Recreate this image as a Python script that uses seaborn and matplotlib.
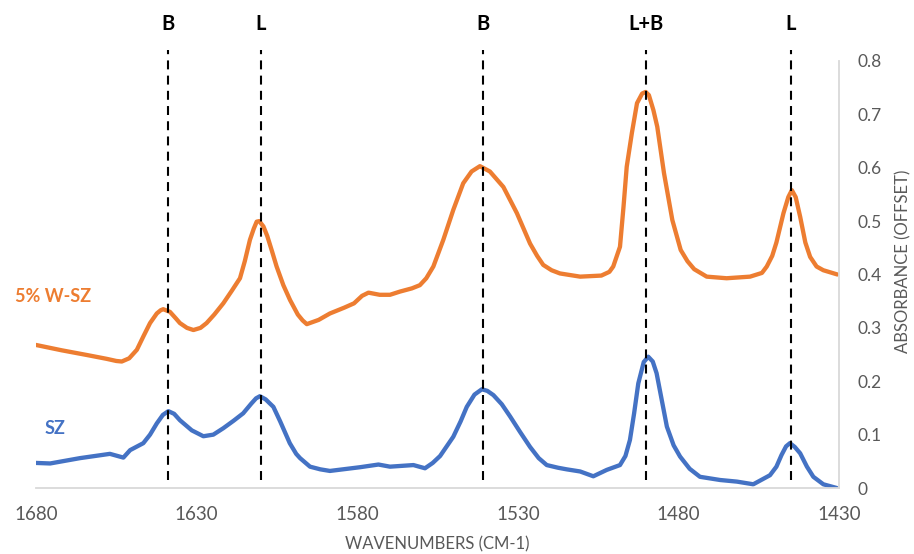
import matplotlib
matplotlib.use("Agg")
import matplotlib.pyplot as plt
import seaborn as sns
import pandas as pd

# ---------------- data ----------------
w_sz_wavenumber = [1680, 1672, 1664, 1658, 1655, 1653.3, 1651, 1648.6, 1646.5, 1644.5, 1642.4,
                   1641.2, 1640.4, 1638.3, 1636.5, 1635.2, 1633, 1631, 1628.8, 1626.9, 1624.5,
                   1621.7, 1619, 1616.5, 1615, 1613.4, 1612.2, 1611.3, 1610.5, 1609.2, 1608,
                   1606.5, 1605.1, 1603, 1600.9, 1598.5, 1597, 1595.7, 1592, 1588.5, 1584,
                   1581, 1578.5, 1576.5, 1573, 1569.8, 1566.7, 1563, 1560.5, 1558.5, 1556.3,
                   1553.2, 1550.1, 1547, 1544.4, 1541.8, 1538.7, 1534.5, 1530.3, 1526.2,
                   1524, 1522.1, 1519.5, 1516.9, 1510.6, 1504, 1501.5, 1500.3, 1498.2,
                   1497.1, 1496.1, 1494.5, 1492.9, 1491.3, 1490.2, 1489.2, 1487.8, 1486.6,
                   1484.5, 1481.9, 1479.3, 1477.2, 1475.1, 1471.2, 1465, 1457.7, 1454,
                   1452.5, 1450.8, 1449.5, 1447.3, 1445.8, 1444.7, 1443.5, 1442.1, 1440.5,
                   1439, 1437, 1434.9, 1430.5]
w_sz_absorbance = [0.268, 0.258, 0.249, 0.242, 0.238, 0.237, 0.243, 0.259, 0.285, 0.309, 0.327,
                   0.333, 0.335, 0.330, 0.318, 0.309, 0.300, 0.296, 0.300, 0.309, 0.325,
                   0.346, 0.370, 0.393, 0.425, 0.465, 0.486, 0.499, 0.500, 0.490, 0.472,
                   0.443, 0.415, 0.380, 0.352, 0.325, 0.314, 0.307, 0.315, 0.327, 0.338,
                   0.346, 0.360, 0.366, 0.362, 0.362, 0.368, 0.374, 0.380, 0.393, 0.415,
                   0.465, 0.521, 0.571, 0.593, 0.603, 0.593, 0.564, 0.515, 0.458,
                   0.435, 0.418, 0.408, 0.402, 0.396, 0.398, 0.405, 0.415, 0.452,
                   0.527, 0.602, 0.665, 0.721, 0.739, 0.742, 0.736, 0.708, 0.677,
                   0.590, 0.502, 0.446, 0.425, 0.410, 0.396, 0.393, 0.396, 0.403,
                   0.415, 0.435, 0.460, 0.515, 0.545, 0.558, 0.545, 0.508, 0.460,
                   0.433, 0.415, 0.408, 0.400]

sz_wavenumber = [1680, 1675.6, 1666.3, 1657, 1652.8, 1650.7, 1646.6, 1644.5, 1642.4, 1640.5,
                 1638.8, 1637, 1635.2, 1631.5, 1627.9, 1624.8, 1621.7, 1618.5, 1615.5, 1613,
                 1611.5, 1610.3, 1608.5, 1606.1, 1604, 1601, 1599, 1597.8, 1594.7, 1591.5,
                 1588.5, 1579.1, 1573.4, 1569.8, 1562.5, 1558.9, 1556.5, 1554.2, 1550.1,
                 1547.8, 1545.9, 1543.5, 1541.2, 1539.5, 1537.6, 1535, 1532.4, 1529.3,
                 1526.2, 1523.5, 1521, 1517.5, 1514.8, 1510.6, 1506.5, 1502.3, 1498.2,
                 1496.5, 1495.1, 1493.8, 1492.5, 1490.8, 1489.4, 1488, 1486.8, 1485.2,
                 1483.6, 1481.5, 1479.5, 1476.5, 1473.3, 1467, 1461.8, 1456.7, 1451.5,
                 1449.5, 1447.9, 1446.5, 1445.3, 1443.8, 1442.1, 1440, 1438, 1434.9, 1430.7]
sz_absorbance = [0.047, 0.046, 0.056, 0.064, 0.057, 0.071, 0.084, 0.100, 0.121, 0.137,
                 0.144, 0.139, 0.127, 0.108, 0.097, 0.100, 0.112, 0.126, 0.140, 0.158,
                 0.168, 0.172, 0.166, 0.152, 0.125, 0.084, 0.064, 0.056, 0.040, 0.035,
                 0.032, 0.039, 0.044, 0.040, 0.043, 0.037, 0.047, 0.060, 0.096,
                 0.125, 0.152, 0.175, 0.185, 0.182, 0.174, 0.157, 0.134, 0.105,
                 0.077, 0.056, 0.043, 0.038, 0.035, 0.031, 0.022, 0.034, 0.043,
                 0.060, 0.090, 0.140, 0.196, 0.236, 0.246, 0.237, 0.215, 0.165,
                 0.115, 0.080, 0.059, 0.036, 0.021, 0.015, 0.012, 0.007, 0.024,
                 0.040, 0.062, 0.078, 0.084, 0.077, 0.065, 0.040, 0.021, 0.007, 0.0]

peak_positions = [1639, 1610, 1541, 1490, 1445]
peak_labels = ["B", "L", "B", "L+B", "L"]

x_ticks = [1680, 1630, 1580, 1530, 1480, 1430]
y_ticks = [0, 0.1, 0.2, 0.3, 0.4, 0.5, 0.6, 0.7, 0.8]
y_tick_labels = ["0", "0.1", "0.2", "0.3", "0.4", "0.5", "0.6", "0.7", "0.8"]

series_names = ["5% W-SZ", "SZ"]
series_colors = ["#ED7D31", "#4472C4"]

df_w = pd.DataFrame({"wavenumber": w_sz_wavenumber, "absorbance": w_sz_absorbance})
df_s = pd.DataFrame({"wavenumber": sz_wavenumber, "absorbance": sz_absorbance})

# ---------------- style ----------------
sns.set_theme(style="white")
plt.rcParams["font.family"] = ["Lato", "DejaVu Sans"]
gray = "#595959"

fig, ax = plt.subplots(figsize=(9.14, 5.54), dpi=100)
fig.subplots_adjust(left=0.0394, right=0.918, bottom=0.1191, top=0.8899)

sns.lineplot(data=df_w, x="wavenumber", y="absorbance", ax=ax, color=series_colors[0],
             linewidth=3.1, sort=False, estimator=None,
             solid_joinstyle="round", solid_capstyle="round")
sns.lineplot(data=df_s, x="wavenumber", y="absorbance", ax=ax, color=series_colors[1],
             linewidth=3.1, sort=False, estimator=None,
             solid_joinstyle="round", solid_capstyle="round")

# dashed reference lines and labels
for pos, lab in zip(peak_positions, peak_labels):
    ax.plot([pos, pos], [0.015, 0.821], color="black", linewidth=1.5,
            linestyle=(0, (4.3, 3.0)), clip_on=False, zorder=3)
    ax.text(pos, 0.869, lab, ha="center", va="center", fontsize=14.5,
            fontweight="bold", color="black", clip_on=False)

# series labels
ax.text(1686.5, 0.358, series_names[0], color=series_colors[0], fontsize=13,
        fontweight="bold", ha="left", va="center", clip_on=False)
ax.text(1677.2, 0.112, series_names[1], color=series_colors[1], fontsize=13,
        fontweight="bold", ha="left", va="center", clip_on=False)

ax.set_xlim(1680, 1430)
ax.set_ylim(0, 0.8)
ax.set_xticks(x_ticks)
ax.set_xticklabels([str(t) for t in x_ticks])
ax.set_yticks(y_ticks)
ax.set_yticklabels(y_tick_labels)
ax.yaxis.tick_right()
ax.tick_params(axis="x", length=0, pad=13, labelsize=13.5, labelcolor=gray)
ax.tick_params(axis="y", length=0, pad=13, labelsize=12.5, labelcolor=gray)

for side in ["left", "top"]:
    ax.spines[side].set_visible(False)
for side in ["right", "bottom"]:
    ax.spines[side].set_visible(True)
    ax.spines[side].set_color("#d9d9d9")
    ax.spines[side].set_linewidth(1.3)

ax.set_xlabel("WAVENUMBERS (CM-1)", fontsize=12, color=gray)
ax.set_ylabel("ABSORBANCE (OFFSET)", fontsize=12, color=gray)
ax.yaxis.set_label_position("right")
ax.xaxis.set_label_coords(0.5, -0.131)
ax.yaxis.set_label_coords(1.0797, 0.53)
ax.xaxis.label.set_va("center")
ax.yaxis.label.set_va("center")
ax.yaxis.label.set_ha("center")
ax.yaxis.label.set_rotation(90)
ax.grid(False)

fig.savefig("out.png", dpi=100)
